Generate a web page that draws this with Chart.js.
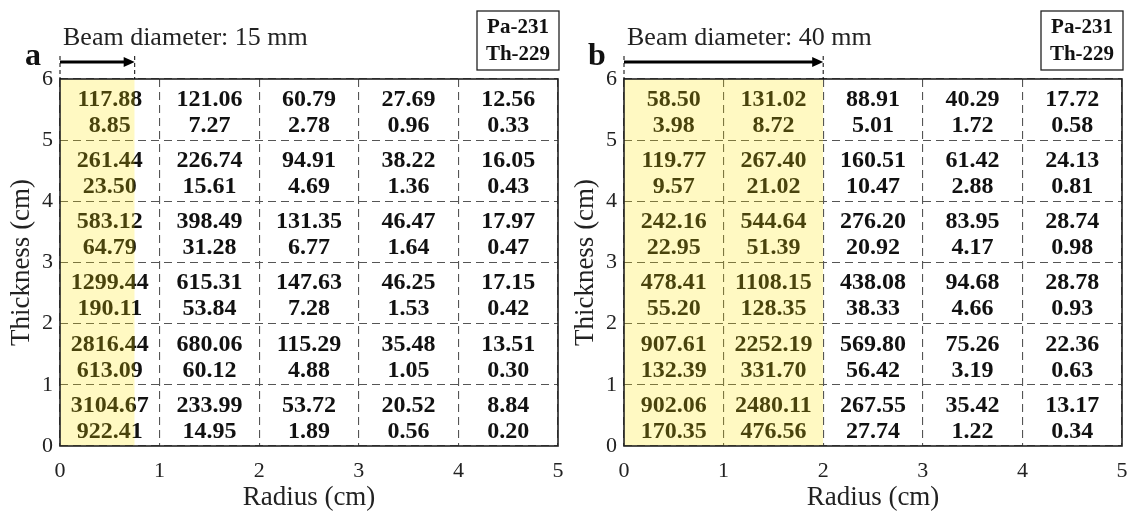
<!DOCTYPE html>
<html>
<head>
<meta charset="utf-8">
<script src="https://cdn.jsdelivr.net/npm/chart.js@4.4.1/dist/chart.umd.min.js"></script>
<style>
  body { margin: 0; background: #fff; }
  .row { display: flex; width: 1128px; height: 512px; }
  .panel { position: relative; width: 564px; height: 512px; }
</style>
</head>
<body>
<div class="row">
  <div class="panel"><canvas id="chartA" width="564" height="512"></canvas></div>
  <div class="panel"><canvas id="chartB" width="564" height="512"></canvas></div>
</div>
<script>
// radius columns (cm) and thickness rows (cm), rows listed from top to bottom
const radiusBins = [0, 1, 2, 3, 4];
const thicknessBins = [5, 4, 3, 2, 1, 0];
const xTicks = [0, 1, 2, 3, 4, 5];
const yTicks = [0, 1, 2, 3, 4, 5, 6];
const isotopes = ['Pa-231', 'Th-229'];

// beam diameter in mm for each panel
const beamDiameters = [15, 40];
const panelLetters = ['a', 'b'];

// panel a: 15 mm beam
const pa231_15 = [
  [117.88, 121.06, 60.79, 27.69, 12.56],
  [261.44, 226.74, 94.91, 38.22, 16.05],
  [583.12, 398.49, 131.35, 46.47, 17.97],
  [1299.44, 615.31, 147.63, 46.25, 17.15],
  [2816.44, 680.06, 115.29, 35.48, 13.51],
  [3104.67, 233.99, 53.72, 20.52, 8.84]
];
const th229_15 = [
  [8.85, 7.27, 2.78, 0.96, 0.33],
  [23.50, 15.61, 4.69, 1.36, 0.43],
  [64.79, 31.28, 6.77, 1.64, 0.47],
  [190.11, 53.84, 7.28, 1.53, 0.42],
  [613.09, 60.12, 4.88, 1.05, 0.30],
  [922.41, 14.95, 1.89, 0.56, 0.20]
];

// panel b: 40 mm beam
const pa231_40 = [
  [58.50, 131.02, 88.91, 40.29, 17.72],
  [119.77, 267.40, 160.51, 61.42, 24.13],
  [242.16, 544.64, 276.20, 83.95, 28.74],
  [478.41, 1108.15, 438.08, 94.68, 28.78],
  [907.61, 2252.19, 569.80, 75.26, 22.36],
  [902.06, 2480.11, 267.55, 35.42, 13.17]
];
const th229_40 = [
  [3.98, 8.72, 5.01, 1.72, 0.58],
  [9.57, 21.02, 10.47, 2.88, 0.81],
  [22.95, 51.39, 20.92, 4.17, 0.98],
  [55.20, 128.35, 38.33, 4.66, 0.93],
  [132.39, 331.70, 56.42, 3.19, 0.63],
  [170.35, 476.56, 27.74, 1.22, 0.34]
];

const SERIF = '"Liberation Serif", "Times New Roman", serif';

// cell text goes under the yellow beam fill so it picks up the tint
const cellText = {
  id: 'cellText',
  beforeDatasetsDraw(chart, args, opts) {
    const { ctx, scales: { x, y } } = chart;
    ctx.save();
    ctx.font = 'bold 24px ' + SERIF;
    ctx.fillStyle = '#111';
    ctx.textAlign = 'center';
    ctx.textBaseline = 'middle';
    thicknessBins.forEach((t, r) => {
      radiusBins.forEach((rad, c) => {
        const cx = x.getPixelForValue(rad + 0.5);
        ctx.fillText(opts.pa[r][c].toFixed(2), cx, y.getPixelForValue(t + 0.66));
        ctx.fillText(opts.th[r][c].toFixed(2), cx, y.getPixelForValue(t + 0.235));
      });
    });
    ctx.restore();
  }
};

// frame, beam arrow, legend box and panel letter
const decorations = {
  id: 'decorations',
  afterDraw(chart, args, opts) {
    const { ctx, chartArea: a, scales: { x } } = chart;
    ctx.save();
    ctx.strokeStyle = '#222';
    ctx.lineWidth = 1.6;
    ctx.setLineDash([]);
    ctx.strokeRect(a.left, a.top, a.right - a.left, a.bottom - a.top);

    // beam arrow
    const x0 = x.getPixelForValue(0);
    const x1 = x.getPixelForValue(opts.beamRadius);
    const ay = 62;
    ctx.strokeStyle = '#000';
    ctx.lineWidth = 1;
    ctx.setLineDash([4, 3]);
    ctx.beginPath();
    ctx.moveTo(x0, 56); ctx.lineTo(x0, a.top);
    ctx.moveTo(x1, 56); ctx.lineTo(x1, a.top);
    ctx.stroke();
    ctx.setLineDash([]);
    ctx.lineWidth = 3;
    ctx.beginPath();
    ctx.moveTo(x0, ay); ctx.lineTo(x1 - 9, ay);
    ctx.stroke();
    ctx.fillStyle = '#000';
    ctx.beginPath();
    ctx.moveTo(x1, ay); ctx.lineTo(x1 - 11, ay - 5); ctx.lineTo(x1 - 11, ay + 5);
    ctx.closePath();
    ctx.fill();

    ctx.fillStyle = '#222';
    ctx.font = '26px ' + SERIF;
    ctx.textAlign = 'left';
    ctx.textBaseline = 'alphabetic';
    ctx.fillText('Beam diameter: ' + opts.diameter + ' mm', a.left + 3, 45);

    // legend box
    const bw = 82, bx = a.right + 1 - bw;
    ctx.lineWidth = 1.3;
    ctx.strokeStyle = '#222';
    ctx.strokeRect(bx, 11, bw, 59);
    ctx.font = 'bold 21px ' + SERIF;
    ctx.textAlign = 'center';
    ctx.textBaseline = 'middle';
    ctx.fillStyle = '#111';
    ctx.fillText(isotopes[0], bx + bw / 2, 28);
    ctx.fillText(isotopes[1], bx + bw / 2, 55);

    ctx.font = 'bold 32px ' + SERIF;
    ctx.fillText(opts.letter, a.left - 27, 57);
    ctx.restore();
  }
};

function makePanel(id, idx, pa, th) {
  const beamRadius = beamDiameters[idx] / 20; // mm diameter -> cm radius
  return new Chart(document.getElementById(id), {
    type: 'line',
    data: {
      datasets: [{
        data: [{ x: 0, y: 6 }, { x: beamRadius, y: 6 }],
        fill: 'origin',
        backgroundColor: 'rgba(255, 232, 0, 0.24)',
        borderWidth: 0,
        pointRadius: 0
      }]
    },
    options: {
      responsive: false,
      animation: false,
      events: [],
      layout: { padding: { left: 0, right: 6, top: 79, bottom: 0 } },
      plugins: {
        legend: { display: false },
        tooltip: { enabled: false },
        cellText: { pa: pa, th: th },
        decorations: { beamRadius: beamRadius, diameter: beamDiameters[idx], letter: panelLetters[idx] }
      },
      scales: {
        x: {
          type: 'linear',
          min: xTicks[0], max: xTicks[xTicks.length - 1],
          afterBuildTicks: s => { s.ticks = xTicks.map(v => ({ value: v })); },
          afterFit: s => { s.height = 66; s.paddingLeft = 0; s.paddingRight = 0; },
          grid: { color: '#555', lineWidth: 1.1, drawTicks: false },
          border: { display: false, dash: [8, 5] },
          ticks: { font: { family: SERIF, size: 22 }, color: '#222', padding: 12, maxRotation: 0 },
          title: { display: true, text: 'Radius (cm)', font: { family: SERIF, size: 27 }, color: '#222', padding: { top: 0, bottom: -2 } }
        },
        y: {
          type: 'linear',
          min: yTicks[0], max: yTicks[yTicks.length - 1],
          afterBuildTicks: s => { s.ticks = yTicks.map(v => ({ value: v })); },
          afterFit: s => { s.width = 60; s.paddingTop = 0; s.paddingBottom = 0; },
          grid: { color: '#555', lineWidth: 1.1, drawTicks: false },
          border: { display: false, dash: [8, 5] },
          ticks: { font: { family: SERIF, size: 22 }, color: '#222', padding: 7 },
          title: { display: true, text: 'Thickness (cm)', font: { family: SERIF, size: 27 }, color: '#222', padding: { top: 6, bottom: 0 } }
        }
      }
    },
    plugins: [cellText, decorations]
  });
}

makePanel('chartA', 0, pa231_15, th229_15);
makePanel('chartB', 1, pa231_40, th229_40);
</script>
</body>
</html>
